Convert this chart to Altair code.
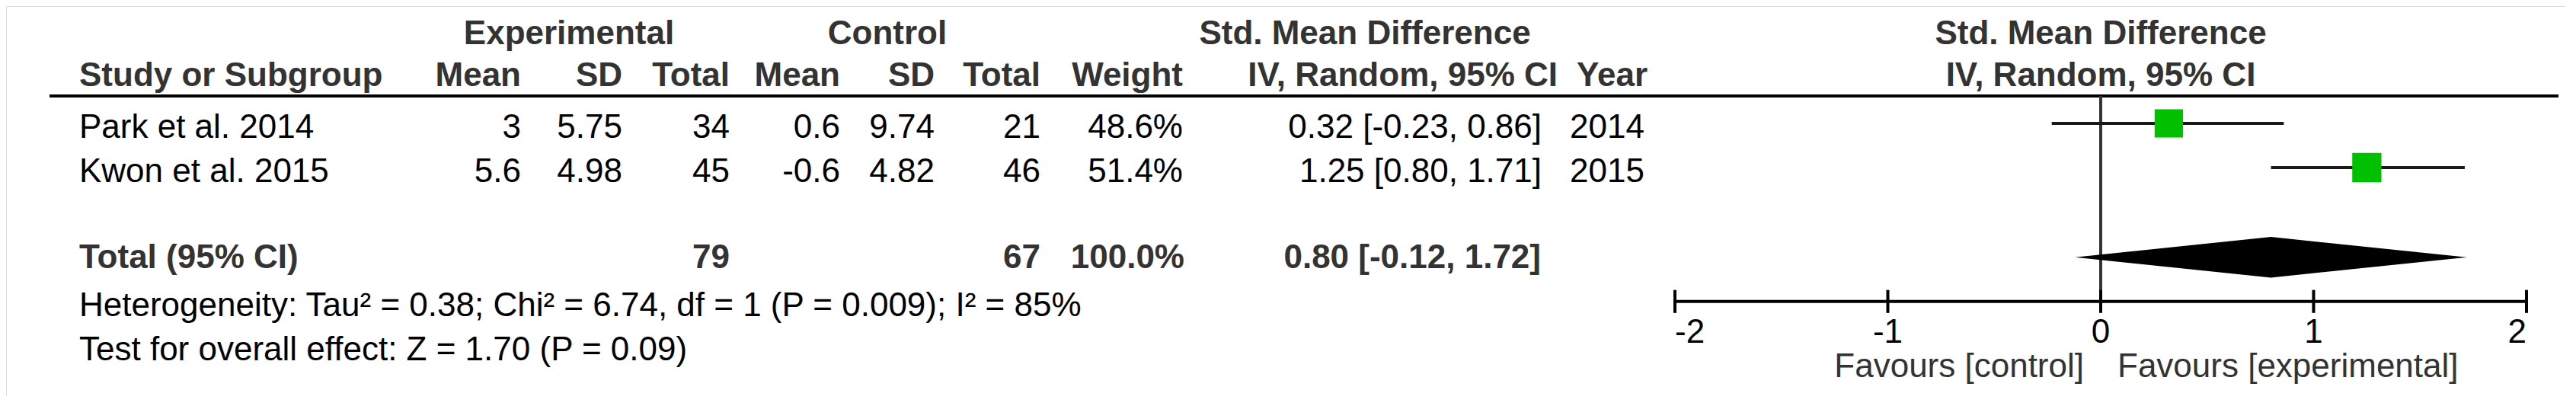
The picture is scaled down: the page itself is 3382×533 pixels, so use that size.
import altair as alt
import pandas as pd

# ---------------- data ----------------
studies = ["Park et al. 2014", "Kwon et al. 2015"]
exp_mean = [3, 5.6]
exp_sd = [5.75, 4.98]
exp_total = [34, 45]
ctl_mean = [0.6, -0.6]
ctl_sd = [9.74, 4.82]
ctl_total = [21, 46]
weights = [48.6, 51.4]
smd = [0.32, 1.25]
ci_low = [-0.23, 0.80]
ci_high = [0.86, 1.71]
years = [2014, 2015]

total_label = "Total (95% CI)"
total_exp = 79
total_ctl = 67
total_weight = 100.0
pooled = 0.80
pooled_low = -0.12
pooled_high = 1.72
heterogeneity = "Heterogeneity: Tau\u00b2 = 0.38; Chi\u00b2 = 6.74, df = 1 (P = 0.009); I\u00b2 = 85%"
overall_effect = "Test for overall effect: Z = 1.70 (P = 0.09)"
axis_ticks = [-2, -1, 0, 1, 2]
favours = ["Favours [control]", "Favours [experimental]"]

# ---------------- layout ----------------
W, H = 3360, 512
FONT = "Liberation Sans"
FS = 44
HEAD = "#333333"
ROW_H = 58
TOP = 96
ys = alt.Scale(domain=[-2, 8], range=[TOP - 2 * ROW_H, TOP + 8 * ROW_H])
xs = alt.Scale(domain=[-2, 2], range=[2191, 3309])

R_H1, R_H2 = -1.12, -0.17
R_LINE = 0.379
R_TOTAL_TXT = 3.95
R_DIAMOND = 4.03
R_HET, R_TEST = 5.04, 6.04
R_AXIS = 5.03
R_TICKLAB = 5.64
R_FAV = 6.42
DY = 19

fmt = lambda v: f"{v:g}"
study_df = pd.DataFrame({
    "study": studies,
    "row": [1 + i for i in range(len(studies))],
    "em": [fmt(v) for v in exp_mean],
    "es": [f"{v:.2f}" for v in exp_sd],
    "en": [str(v) for v in exp_total],
    "cm": [fmt(v) for v in ctl_mean],
    "cs": [f"{v:.2f}" for v in ctl_sd],
    "cn": [str(v) for v in ctl_total],
    "w": weights,
    "wt": [f"{v:.1f}%" for v in weights],
    "smd": smd,
    "lo": ci_low,
    "hi": ci_high,
    "ci": [f"{e:.2f} [{l:.2f}, {h:.2f}]" for e, l, h in zip(smd, ci_low, ci_high)],
    "year": [str(y) for y in years],
})


def text_layer(df, field, xpx, align, weight="normal", color="black", row_field="row"):
    return alt.Chart(df).mark_text(
        align=align, baseline="alphabetic", dy=DY, font=FONT, fontSize=FS,
        fontWeight=weight, color=color
    ).encode(
        x=alt.value(xpx),
        y=alt.Y(f"{row_field}:Q", scale=ys, axis=None),
        text=alt.Text(f"{field}:N"),
    )


def one_text(txt, row, xpx, align, weight="normal", color="black"):
    return text_layer(pd.DataFrame({"t": [txt], "row": [row]}), "t", xpx, align, weight, color)


layers = []

# headers
layers += [
    one_text("Experimental", R_H1, 739, "center", "bold", HEAD),
    one_text("Control", R_H1, 1157, "center", "bold", HEAD),
    one_text("Std. Mean Difference", R_H1, 1784, "center", "bold", HEAD),
    one_text("Std. Mean Difference", R_H1, 2750, "center", "bold", HEAD),
    one_text("Study or Subgroup", R_H2, 96, "left", "bold", HEAD),
    one_text("Mean", R_H2, 676, "right", "bold", HEAD),
    one_text("SD", R_H2, 809, "right", "bold", HEAD),
    one_text("Total", R_H2, 950, "right", "bold", HEAD),
    one_text("Mean", R_H2, 1095, "right", "bold", HEAD),
    one_text("SD", R_H2, 1219, "right", "bold", HEAD),
    one_text("Total", R_H2, 1358, "right", "bold", HEAD),
    one_text("Weight", R_H2, 1545, "right", "bold", HEAD),
    one_text("IV, Random, 95% CI", R_H2, 2037, "right", "bold", HEAD),
    one_text("Year", R_H2, 2155, "right", "bold", HEAD),
    one_text("IV, Random, 95% CI", R_H2, 2750, "center", "bold", HEAD),
]

# header rule
layers.append(
    alt.Chart(pd.DataFrame({"row": [R_LINE]})).mark_rule(color="black", strokeWidth=4).encode(
        x=alt.value(57), x2=alt.value(3351), y=alt.Y("row:Q", scale=ys, axis=None)
    )
)

# study rows
layers += [
    text_layer(study_df, "study", 96, "left"),
    text_layer(study_df, "em", 676, "right"),
    text_layer(study_df, "es", 809, "right"),
    text_layer(study_df, "en", 950, "right"),
    text_layer(study_df, "cm", 1095, "right"),
    text_layer(study_df, "cs", 1219, "right"),
    text_layer(study_df, "cn", 1358, "right"),
    text_layer(study_df, "wt", 1545, "right"),
    text_layer(study_df, "ci", 2016, "right"),
    text_layer(study_df, "year", 2151, "right"),
]

# total row and footnotes
layers += [
    one_text(total_label, R_TOTAL_TXT, 96, "left", "bold", HEAD),
    one_text(str(total_exp), R_TOTAL_TXT, 950, "right", "bold", HEAD),
    one_text(str(total_ctl), R_TOTAL_TXT, 1358, "right", "bold", HEAD),
    one_text(f"{total_weight:.1f}%", R_TOTAL_TXT, 1547, "right", "bold", HEAD),
    one_text(f"{pooled:.2f} [{pooled_low:.2f}, {pooled_high:.2f}]", R_TOTAL_TXT, 2015, "right", "bold", HEAD),
    one_text(heterogeneity, R_HET, 96, "left"),
    one_text(overall_effect, R_TEST, 96, "left"),
]

# zero line
layers.append(
    alt.Chart(pd.DataFrame({"x": [0], "y1": [R_LINE], "y2": [R_AXIS]})).mark_rule(
        color="#333333", strokeWidth=4
    ).encode(
        x=alt.X("x:Q", scale=xs, axis=None),
        y=alt.Y("y1:Q", scale=ys, axis=None),
        y2="y2:Q",
    )
)

# confidence intervals
layers.append(
    alt.Chart(study_df).mark_rule(color="#1a1a1a", strokeWidth=4).encode(
        x=alt.X("lo:Q", scale=xs, axis=None),
        x2="hi:Q",
        y=alt.Y("row:Q", scale=ys, axis=None),
    )
)

# squares (area proportional to weight)
layers.append(
    alt.Chart(study_df).mark_square(filled=True, color="#00C000", opacity=1).encode(
        x=alt.X("smd:Q", scale=xs, axis=None),
        y=alt.Y("row:Q", scale=ys, axis=None),
        size=alt.Size("w:Q", scale=alt.Scale(domain=[0, 100], range=[0, 2850]), legend=None),
    )
)

# pooled diamond
DH = 0.46
diamond = pd.DataFrame({
    "x": [pooled_low, pooled, pooled_high],
    "y1": [R_DIAMOND, R_DIAMOND - DH, R_DIAMOND],
    "y2": [R_DIAMOND, R_DIAMOND + DH, R_DIAMOND],
})
layers.append(
    alt.Chart(diamond).mark_area(color="black", opacity=1).encode(
        x=alt.X("x:Q", scale=xs, axis=None),
        y=alt.Y("y1:Q", scale=ys, axis=None),
        y2="y2:Q",
    )
)

# axis line, ticks, labels
layers.append(
    alt.Chart(pd.DataFrame({"a": [axis_ticks[0]], "b": [axis_ticks[-1]], "row": [R_AXIS]})).mark_rule(
        color="black", strokeWidth=4
    ).encode(
        x=alt.X("a:Q", scale=xs, axis=None), x2="b:Q", y=alt.Y("row:Q", scale=ys, axis=None)
    )
)
tick_df = pd.DataFrame({"t": axis_ticks, "y1": R_AXIS - 0.26, "y2": R_AXIS + 0.26,
                        "lab": [str(t) for t in axis_ticks], "row": R_TICKLAB})
layers.append(
    alt.Chart(tick_df).mark_rule(color="black", strokeWidth=4).encode(
        x=alt.X("t:Q", scale=xs, axis=None), y=alt.Y("y1:Q", scale=ys, axis=None), y2="y2:Q"
    )
)
for sub, al in [(tick_df.iloc[[0]], "left"), (tick_df.iloc[1:-1], "center"), (tick_df.iloc[[-1]], "right")]:
    layers.append(
        alt.Chart(sub).mark_text(align=al, baseline="alphabetic", dy=DY, font=FONT, fontSize=FS,
                                 color="black").encode(
            x=alt.X("t:Q", scale=xs, axis=None), y=alt.Y("row:Q", scale=ys, axis=None), text="lab:N"
        )
    )

fav_df = pd.DataFrame({"x": [0, 0], "row": [R_FAV, R_FAV], "t": favours})
layers.append(
    alt.Chart(fav_df.iloc[[0]]).mark_text(align="right", baseline="alphabetic", dx=-22, dy=DY, font=FONT,
                                          fontSize=FS, color=HEAD).encode(
        x=alt.X("x:Q", scale=xs, axis=None), y=alt.Y("row:Q", scale=ys, axis=None), text="t:N"
    )
)
layers.append(
    alt.Chart(fav_df.iloc[[1]]).mark_text(align="left", baseline="alphabetic", dx=22, dy=DY, font=FONT,
                                          fontSize=FS, color=HEAD).encode(
        x=alt.X("x:Q", scale=xs, axis=None), y=alt.Y("row:Q", scale=ys, axis=None), text="t:N"
    )
)

chart = alt.layer(*layers).properties(
    width=W, height=H, autosize=alt.AutoSizeParams(type="none"), padding=0
).configure_view(stroke=None).configure(background="white")

chart.save("out.html", embed_options={"renderer": "svg", "actions": False})
